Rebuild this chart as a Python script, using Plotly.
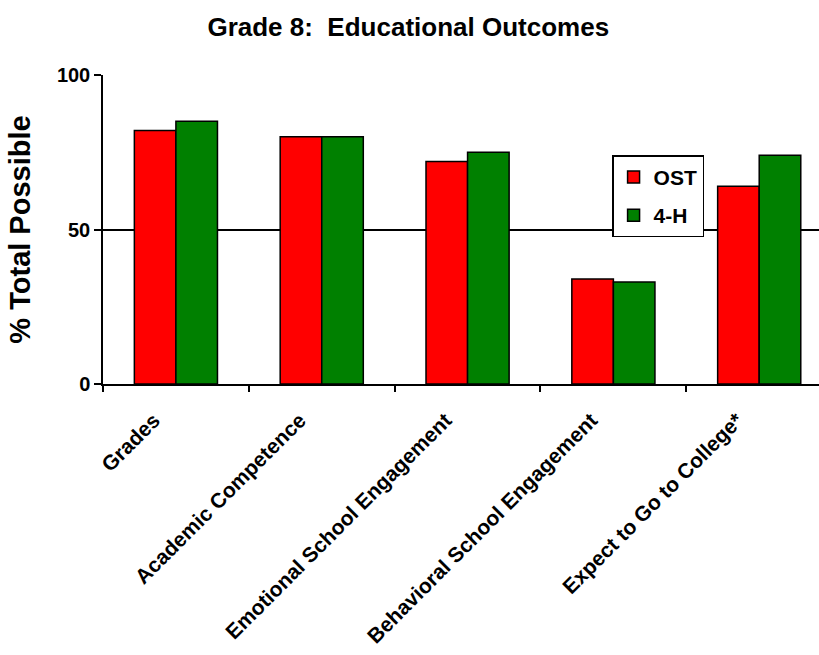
import plotly.graph_objects as go

categories = ["Grades", "Academic Competence", "Emotional School Engagement",
              "Behavioral School Engagement", "Expect to Go to College*"]
ost = [82, 80, 72, 34, 64]
fourh = [85, 80, 75, 33, 74]
y_ticks = [0, 50, 100]

FONT = "Arial, Liberation Sans, sans-serif"

fig = go.Figure()
fig.add_trace(go.Bar(name="OST", x=categories, y=ost, legendgroup="a",
                     marker=dict(color="#ff0000", line=dict(color="black", width=1.5))))
fig.add_trace(go.Bar(name="4-H", x=categories, y=fourh, legendgroup="b",
                     marker=dict(color="#008000", line=dict(color="black", width=1.5))))

fig.update_layout(
    width=819, height=655,
    margin=dict(l=103, r=0, t=74.5, b=271, autoexpand=False),
    paper_bgcolor="white", plot_bgcolor="white",
    barmode="group", bargap=0.43, bargroupgap=0,
    font=dict(family=FONT, color="black"),
    title=dict(text="Grade 8:  Educational Outcomes", x=0.4985, xanchor="center",
               xref="container", y=1 - 27 / 655, yanchor="middle", yref="container",
               font=dict(size=26, family=FONT, weight="bold")),
    legend=dict(x=0.711, y=0.74, xanchor="left", yanchor="top",
                bgcolor="white", bordercolor="black", borderwidth=1.5,
                font=dict(size=21, family=FONT, weight="bold"), traceorder="grouped",
                tracegroupgap=8, itemwidth=30),
    showlegend=True,
)
fig.update_xaxes(
    range=[-0.5, 4.41], tickson="boundaries", ticks="outside", ticklen=6,
    tickcolor="black", tickwidth=1.5, showline=True, linecolor="black", linewidth=1.5,
    showgrid=False, tickangle=-45, tickfont=dict(size=21, family=FONT, weight="bold"),
    categoryorder="array", categoryarray=categories, ticklabelstandoff=14,
    ticklabelshift=-22, automargin=False,
)
fig.update_yaxes(
    range=[0, 100], tickvals=y_ticks, ticks="outside", ticklen=7, tickcolor="black",
    tickwidth=1.5, showline=True, linecolor="black", linewidth=1.5,
    showgrid=True, gridcolor="black", gridwidth=1.5, zeroline=False,
    tickfont=dict(size=20, family=FONT, weight="bold"), automargin=False,
    title=dict(text="% Total Possible", font=dict(size=29, family=FONT, weight="bold"),
               standoff=18),
)

fig.write_html("out.html")
